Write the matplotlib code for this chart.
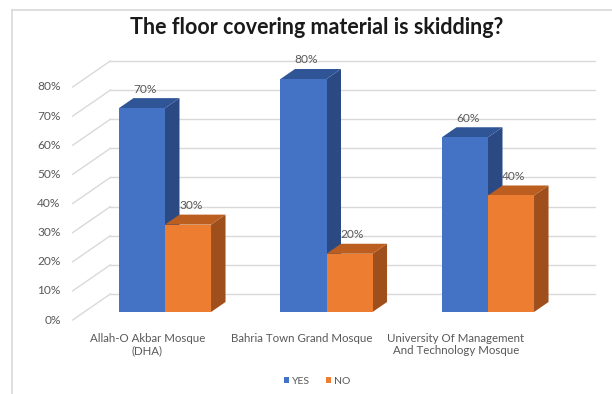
import matplotlib
matplotlib.use("Agg")
import matplotlib.pyplot as plt
from matplotlib import transforms
from matplotlib.patches import Polygon, Patch
from matplotlib.lines import Line2D

# ---- data -------------------------------------------------------------
categories = ["Allah-O Akbar Mosque\n(DHA)",
              "Bahria Town Grand Mosque",
              "University Of Management\nAnd Technology Mosque"]
series_names = ["YES", "NO"]
yes_values = [70, 80, 60]
no_values = [30, 20, 40]
y_ticks = [0, 10, 20, 30, 40, 50, 60, 70, 80]
tick_labels = [f"{t}%" for t in y_ticks]
title = "The floor covering material is skidding?"

# ---- style ------------------------------------------------------------
FRONT = {"YES": "#4472C4", "NO": "#ED7D31"}
TOP = {"YES": "#2F5597", "NO": "#BC5E1F"}
SIDE = {"YES": "#2B4A84", "NO": "#9E4F1B"}
GRID = "#D9D9D9"
TEXT = "#595959"
plt.rcParams["font.family"] = ["Lato", "DejaVu Sans"]

W, H = 612, 394
fig = plt.figure(figsize=(W / 100, H / 100), dpi=100)
fig.patch.set_facecolor("white")

# front plane of the bars
ax_left, ax_bottom, ax_w, ax_h = 84.25, 82, 484.5, 233
ax = fig.add_axes([ax_left / W, ax_bottom / H, ax_w / W, ax_h / H])
ax.set_xlim(-0.5, 2.5)
ax.set_ylim(0, 80)
ax.axis("off")

px_x = ax_w / 3.0        # pixels per category unit
px_y = ax_h / 80.0       # pixels per percent
SLANT = 1.45             # horizontal pixels per vertical pixel of depth


def shift(x, y, depth):
    """Move a front-plane point backwards by `depth` pixels (oblique view)."""
    return x + depth * SLANT / px_x, y + depth / px_y


BAR_W = 0.285
BAR_DEPTH = 10
WALL = 18
FLOOR_FRONT = -8

# back wall gridlines and the slanted floor ticks
for t in y_ticks:
    x0, y0 = shift(-0.5, t, WALL)
    x1, y1 = shift(2.5, t, WALL)
    ax.add_line(Line2D([x0, x1], [y0, y1], color=GRID, lw=1.0, clip_on=False, zorder=1))
    xf, yf = shift(-0.5, t, FLOOR_FRONT)
    ax.add_line(Line2D([xf, x0], [yf, y0], color=GRID, lw=1.0, clip_on=False, zorder=1))

tick_tr = transforms.offset_copy(ax.transData, fig=fig, x=-12, y=0, units="dots")
for t, lab in zip(y_ticks, tick_labels):
    xf, yf = shift(-0.5, t, FLOOR_FRONT)
    ax.text(xf, yf, lab, transform=tick_tr, ha="right", va="center",
            fontsize=8.6, color=TEXT, clip_on=False)


def draw_bar(x_left, value, name, z):
    xr = x_left + BAR_W
    side = [(xr, 0), (xr, value), shift(xr, value, BAR_DEPTH), shift(xr, 0, BAR_DEPTH)]
    top = [(x_left, value), (xr, value), shift(xr, value, BAR_DEPTH), shift(x_left, value, BAR_DEPTH)]
    ax.add_patch(Polygon(side, closed=True, facecolor=SIDE[name], edgecolor="none",
                         clip_on=False, zorder=z))
    ax.add_patch(Polygon(top, closed=True, facecolor=TOP[name], edgecolor="none",
                         clip_on=False, zorder=z))


label_tr = transforms.offset_copy(ax.transData, fig=fig, x=3, y=19, units="dots")
for i, (yv, nv) in enumerate(zip(yes_values, no_values)):
    for j, (name, v) in enumerate(zip(series_names, (yv, nv))):
        xl = i - BAR_W + j * BAR_W
        z = 2 + j * 2
        draw_bar(xl, v, name, z)
        ax.bar(xl, v, width=BAR_W, align="edge", color=FRONT[name],
               edgecolor="none", zorder=z + 1, clip_on=False)
        ax.text(xl + BAR_W / 2, v, f"{v}%", transform=label_tr, ha="center",
                va="center", fontsize=8.6, color=TEXT, zorder=10)

# category labels along the floor front edge
cat_tr = transforms.offset_copy(ax.transData, fig=fig, x=0, y=-21, units="dots")
label_x = [i * 0.955 - 0.11 for i in range(len(categories))]
for lx, cat in zip(label_x, categories):
    ax.text(lx, 0, cat, transform=cat_tr, ha="center", va="top", fontsize=8.3,
            color=TEXT, linespacing=1.1, clip_on=False)

# title
fig.text(317 / W, 1 - 27 / H, title, ha="center", va="center", fontsize=15.5,
         fontweight="bold", color="#1A1A1A")

# legend
handles = [Patch(facecolor=FRONT[n], edgecolor="none") for n in series_names]
fig.legend(handles, series_names, loc="center", bbox_to_anchor=(317 / W, 1 - 381 / H),
           ncol=2, frameon=False, fontsize=7.5, handlelength=0.55, handleheight=0.55,
           handletextpad=0.25, columnspacing=1.5, labelcolor=TEXT)

# outer frame edges
fig.add_artist(Line2D([11.5 / W, 1], [1 - 9.5 / H] * 2, transform=fig.transFigure,
                      color=GRID, lw=1.2))
fig.add_artist(Line2D([11.5 / W] * 2, [0, 1 - 9.5 / H], transform=fig.transFigure,
                      color=GRID, lw=1.2))

fig.savefig("out.png", dpi=100, facecolor="white")
